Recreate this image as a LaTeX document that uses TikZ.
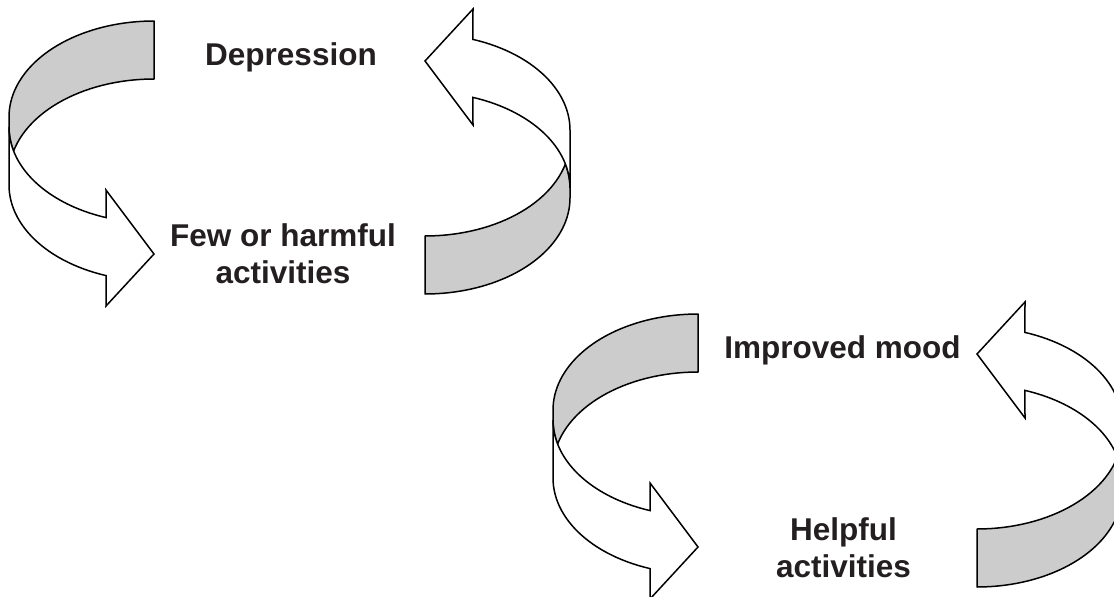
\documentclass[tikz,border=0pt]{standalone}
\usepackage{fontspec}
\setmainfont{Liberation Sans}
\definecolor{ribbongray}{RGB}{204,204,204}
\definecolor{textdark}{RGB}{35,31,32}
\tikzset{
  ribbonback/.style={fill=ribbongray, draw=black, line width=1.5pt, line join=round},
  ribbonfront/.style={fill=white, draw=black, line width=1.5pt, line join=miter},
  lbl/.style={font=\fontsize{31.5}{36.5}\selectfont\bfseries, text=textdark, align=center, anchor=base, inner sep=0pt}
}
\newcommand\ribbonarrow{%
  \path[ribbonback] plot[domain=270:180,samples=40] ({154+145*cos(\x)},{117+96*sin(\x)})
    -- plot[domain=180:165.5,samples=8] ({154+145*cos(\x)},{127+96*sin(\x)})
    -- plot[domain=194.5:270,samples=30] ({154+145*cos(\x)},{175+96*sin(\x)}) -- cycle;
  \path[ribbonfront] plot[domain=165.5:109.3,samples=30] ({154+145*cos(\x)},{127+96*sin(\x)})
    -- (106,190) -- (154,254) -- (106,306)
    -- plot[domain=109.3:180,samples=30] ({154+145*cos(\x)},{185+96*sin(\x)})
    -- plot[domain=180:165.5,samples=8] ({154+145*cos(\x)},{127+96*sin(\x)}) -- cycle;
}
\begin{document}
\begin{tikzpicture}[x=1pt,y=-1pt]
  \clip (0,0) rectangle (1114,597);
  \begin{scope}\ribbonarrow\end{scope}
  \begin{scope}[rotate around={180:(289.5,157.5)}]\ribbonarrow\end{scope}
  \begin{scope}[shift={(544,293)}]\ribbonarrow\end{scope}
  \begin{scope}[rotate around={180:(565.5,304)}]\ribbonarrow\end{scope}
  \node[lbl] (dep) at (291,65) {Depression};
  \node[lbl] (few) at (283,283) {Few or harmful\\activities};
  \node[lbl] (imp) at (842.5,358) {Improved mood};
  \node[lbl] (help) at (843.5,577) {Helpful\\activities};
\end{tikzpicture}
\end{document}
